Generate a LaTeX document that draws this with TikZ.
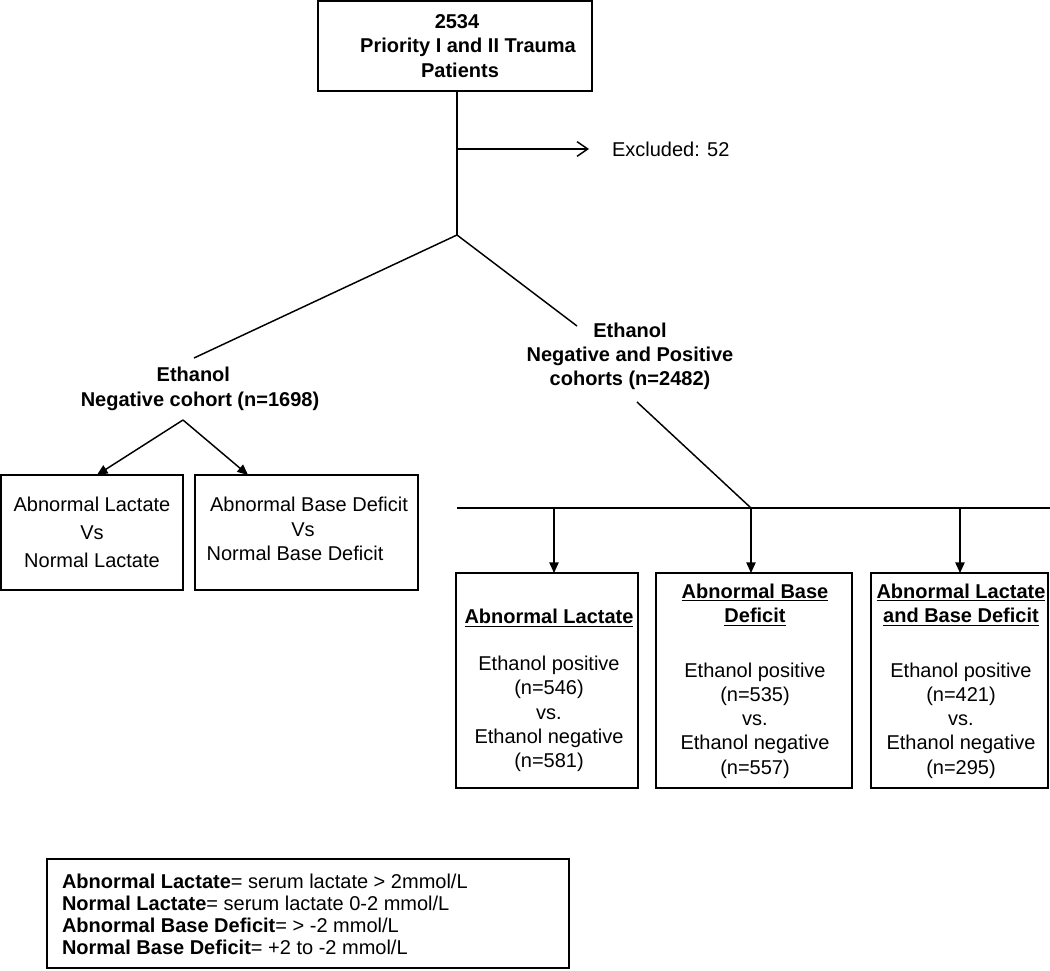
\documentclass[tikz,border=0pt]{standalone}
\usepackage{fontspec}
\setmainfont{Liberation Sans}
\usetikzlibrary{arrows.meta,calc}
\begin{document}
\begin{tikzpicture}[x=0.75pt,y=-0.75pt,
  every node/.style={font=\fontsize{15}{18.2}\selectfont, inner sep=0pt, outer sep=0pt},
  line/.style={line width=1.1pt, black},
  box/.style={draw, line width=1.1pt, rectangle, align=center},
  tri/.style={line, -{Triangle[length=8pt,width=7pt]}},
  barb/.style={line, -{Straight Barb[length=8pt,width=11pt]}},
  txt/.style={align=center},
  btxt/.style={align=center, font=\fontsize{15}{18.2}\selectfont\bfseries}
]
\useasboundingbox (0,0) rectangle (1050,971);

% top box
\node[box, font=\fontsize{15}{18.6}\selectfont\bfseries, minimum width=274*0.75pt, minimum height=90*0.75pt] (top) at (455,46) {\hspace*{3pt}2534\\\hspace*{19.5pt}Priority I and II Trauma\\\hspace*{7.5pt}Patients};

\coordinate (apex1) at (457,235);
\coordinate (exc) at (457,149);
\node[anchor=west] (excl) at (612,149) {Excluded: 52};
\draw[line] (top.south -| apex1) -- (apex1);
\draw[barb, shorten >=17.25pt] (exc) -- (excl.west);

% left branch
\node[btxt] (negc) at (200,389) {Ethanol\hspace*{10pt}\\Negative cohort (n=1698)};
\coordinate (negtop) at (194,358);
\coordinate (apex2) at (183,420);
\draw[line] (apex1) -- (negtop);

\node[box, font=\fontsize{15}{21}\selectfont, minimum width=182*0.75pt, minimum height=115*0.75pt] (al) at (92,532.5) {Abnormal Lactate\\Vs\\Normal Lactate};
\node[box, minimum width=223*0.75pt, minimum height=115*0.75pt] (abd) at (306.5,532.5) {};
\node[txt] (abdtxt) at (303,529) {\hspace*{9pt}Abnormal Base Deficit\\Vs\\Normal Base Deficit\hspace*{12pt}};

\draw[tri] (apex2) -- ($(al.north west)!0.527!(al.north east)$);
\draw[tri] (apex2) -- ($(abd.north west)!0.238!(abd.north east)$);

% right branch
\node[btxt] (posc) at (630,356.5) {Ethanol\\Negative and Positive\\cohorts (n=2482)};
\coordinate (postop) at (577,326);
\coordinate (posbot) at (637,402);
\draw[line] (apex1) -- (postop);

\coordinate (hub) at (751,508);
\coordinate (hubL) at (457,508);
\coordinate (hubR) at (1050,508);
\coordinate (d1) at (554,508);
\coordinate (d3) at (960,508);
\draw[line] (posbot) -- (hub);
\draw[line] (hubL) -- (hubR);

\node[box, minimum width=182*0.75pt, minimum height=215*0.75pt] (b1) at (547,680.5) {};
\node[box, minimum width=196*0.75pt, minimum height=215*0.75pt] (b2) at (754,680.5) {};
\node[box, minimum width=177*0.75pt, minimum height=215*0.75pt] (b3) at (959.5,680.5) {};

\draw[tri] (d1) -- (d1 |- b1.north);
\draw[tri] (hub) -- (hub |- b2.north);
\draw[tri] (d3) -- (d3 |- b3.north);

\node[btxt] (t1) at (549,618) {\underline{Abnormal Lactate}};
\node[txt] (m1) at (549,714) {Ethanol positive\\(n=546)\\vs.\\Ethanol negative\\(n=581)};
\node[btxt] (t2) at (755,605) {\underline{Abnormal Base}\\\underline{Deficit}};
\node[txt] (m2) at (755,720.5) {Ethanol positive\\(n=535)\\vs.\\Ethanol negative\\(n=557)};
\node[btxt] (t3) at (961,605) {\underline{Abnormal Lactate}\\\underline{and Base Deficit}};
\node[txt] (m3) at (961,720.5) {Ethanol positive\\(n=421)\\vs.\\Ethanol negative\\(n=295)};

% legend
\node[box, minimum width=522*0.75pt, minimum height=109*0.75pt] (leg) at (308,913.5) {};
\node[anchor=west, align=left, font=\fontsize{15}{16.5}\selectfont] (legtxt) at (62,914) {\textbf{Abnormal Lactate}= serum lactate > 2mmol/L\\
\textbf{Normal Lactate}= serum lactate 0-2 mmol/L\\
\textbf{Abnormal Base Deficit}= > -2 mmol/L\\
\textbf{Normal Base Deficit}= +2 to -2 mmol/L};
\end{tikzpicture}
\end{document}
